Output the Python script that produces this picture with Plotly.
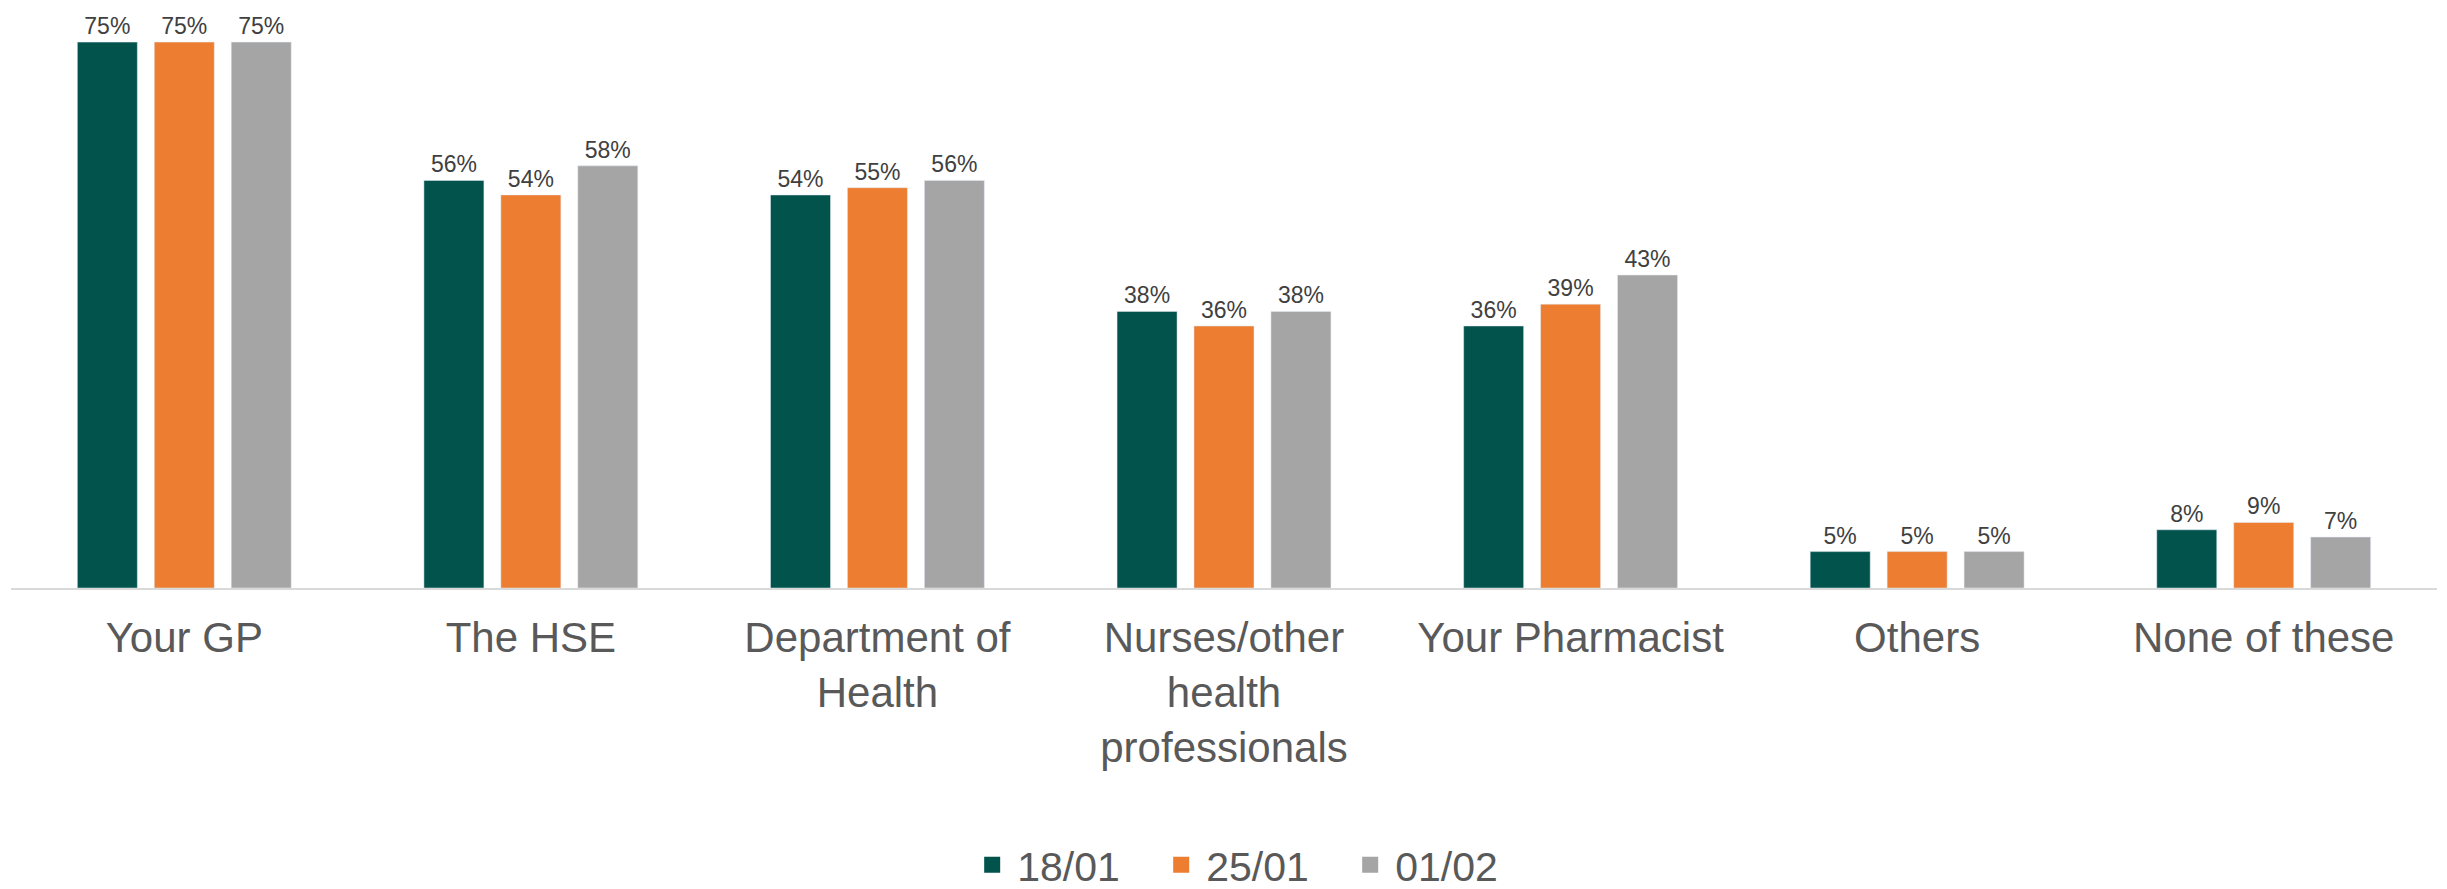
import plotly.graph_objects as go

categories = ["Your GP", "The HSE", "Department of<br>Health",
              "Nurses/other<br>health<br>professionals", "Your Pharmacist",
              "Others", "None of these"]
series_names = ["18/01", "25/01", "01/02"]
values_1801 = [75, 56, 54, 38, 36, 5, 8]
values_2501 = [75, 54, 55, 36, 39, 5, 9]
values_0102 = [75, 58, 56, 38, 43, 5, 7]
colors = ["#03534D", "#ED7D31", "#A5A5A5"]

FONT = "Liberation Sans, Arial"

fig = go.Figure()
for name, vals, col in zip(series_names, [values_1801, values_2501, values_0102], colors):
    fig.add_trace(go.Bar(
        x=categories, y=vals, name=name, marker_color=col,
        texttemplate="%{y}%", textposition="outside",
        textfont=dict(family=FONT, size=23, color="#404040"),
        cliponaxis=False, showlegend=False,
    ))
    fig.add_trace(go.Scatter(
        x=[None], y=[None], mode="markers", name=name,
        marker=dict(symbol="square", size=16, color=col),
        showlegend=True,
    ))

# page body has an 8px margin; figure offset compensated in margins
fig.update_layout(
    width=2439, height=881,
    margin=dict(l=3, r=10, t=5, b=301, autoexpand=False),
    paper_bgcolor="white", plot_bgcolor="white",
    barmode="group", bargap=0.334, bargroupgap=0.22,
    font=dict(family=FONT, color="#595959"),
    legend=dict(orientation="h", x=0.511, xanchor="center", y=-0.4817, yanchor="middle",
                font=dict(family=FONT, size=41, color="#595959"), itemwidth=40,
                entrywidth=134, traceorder="normal"),
    xaxis=dict(showline=True, linecolor="#D9D9D9", linewidth=2,
               tickfont=dict(family=FONT, size=42, color="#595959"),
               ticks="", ticklabelstandoff=12, showgrid=False, automargin=False),
    yaxis=dict(range=[0, 79], visible=False, showgrid=False, zeroline=False),
)

fig.write_html("out.html")
